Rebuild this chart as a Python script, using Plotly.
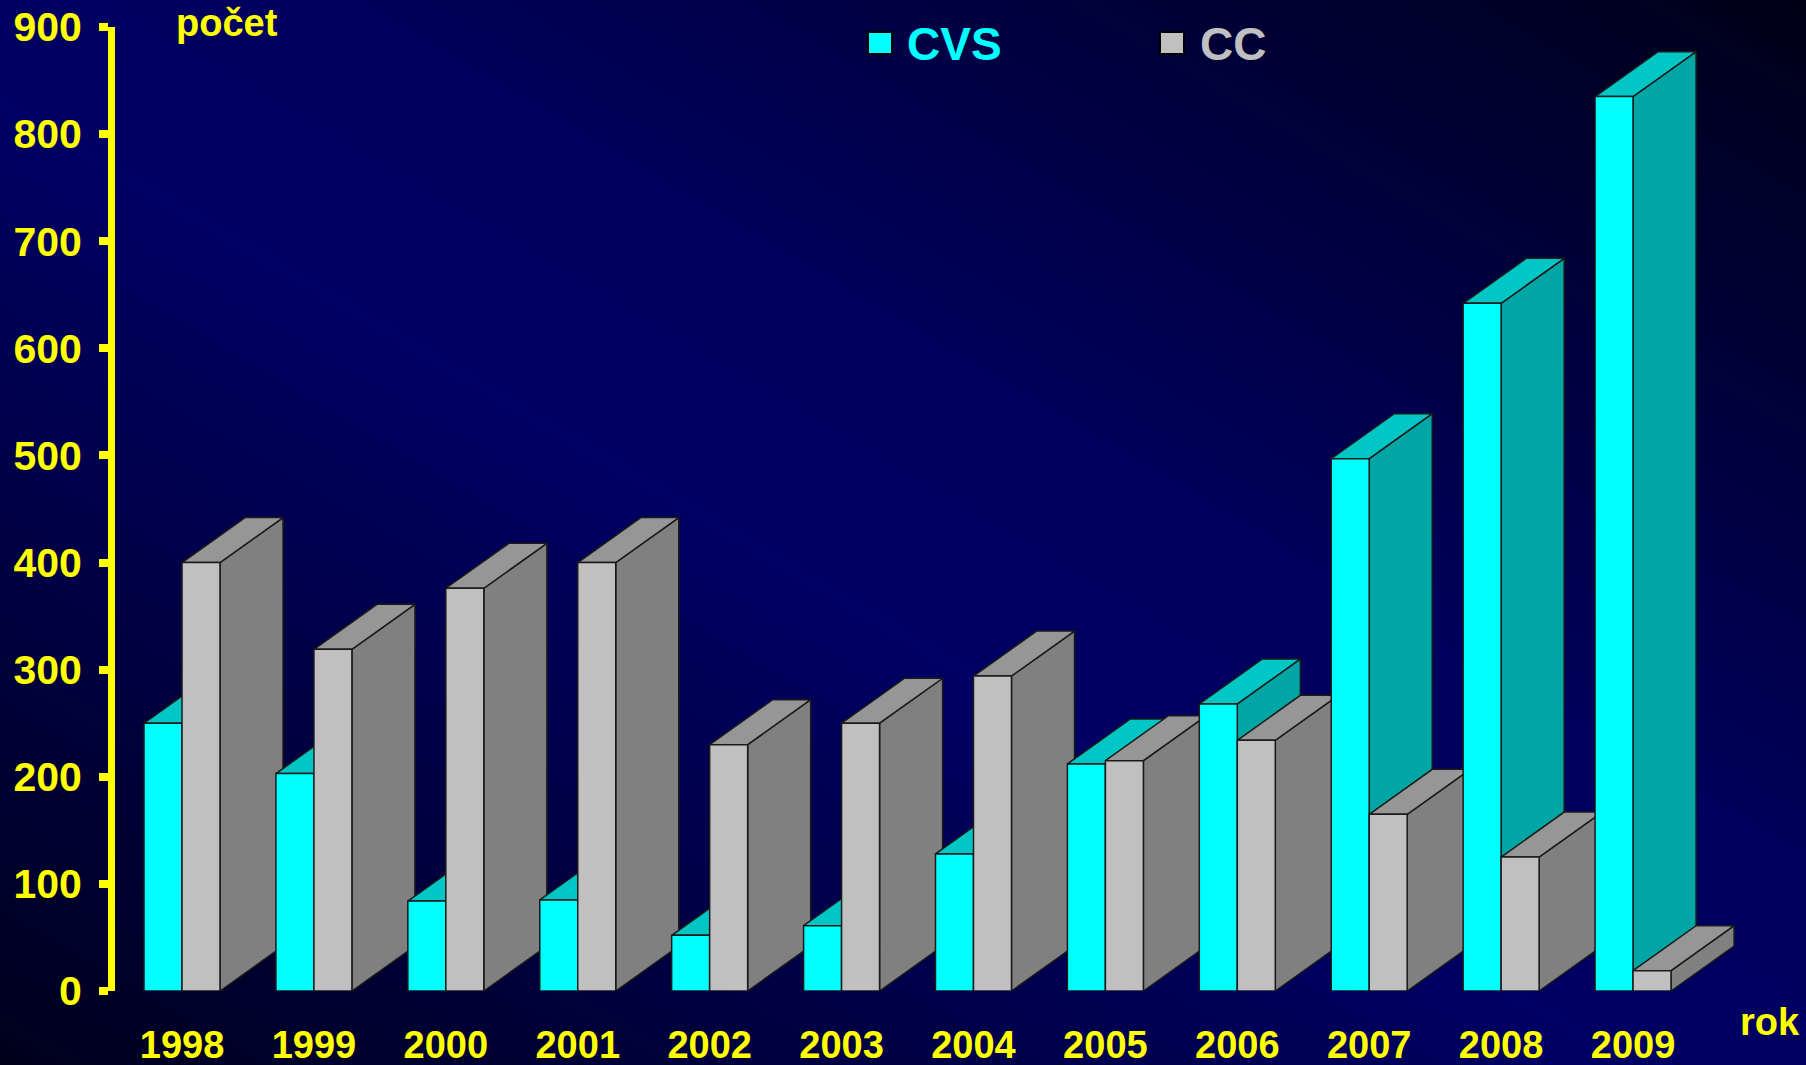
import base64
import plotly.graph_objects as go

years = ["1998", "1999", "2000", "2001", "2002", "2003",
         "2004", "2005", "2006", "2007", "2008", "2009"]
cvs = [250, 203, 84, 85, 52, 61, 128, 212, 268, 497, 642, 835]
cc = [400, 319, 376, 400, 230, 250, 294, 215, 234, 165, 125, 19]

# fake 3d look: front face, top and side built from the values
BAR_W = 0.288   # width of one bar front (category units)
DX = 0.478      # depth shift to the right
DY = 42         # depth shift up (y units)
EDGE = "#1a1a1a"

colors = {
    "CVS": ("#00FFFF", "#00C6C6", "#00A6A6"),
    "CC": ("#C0C0C0", "#969696", "#808080"),
}

def face(xs, ys, color):
    return go.Scatter(x=xs, y=ys, mode="lines", fill="toself", fillcolor=color,
                      line=dict(color=EDGE, width=1.5), hoverinfo="skip",
                      showlegend=False)

def box(x0, h, name):
    front, top, side = colors[name]
    x1 = x0 + BAR_W
    return [
        face([x1, x1 + DX, x1 + DX, x1, x1], [0, DY, h + DY, h, 0], side),
        face([x0, x0 + DX, x1 + DX, x1, x0], [h, h + DY, h + DY, h, h], top),
        face([x0, x1, x1, x0, x0], [0, 0, h, h, 0], front),
    ]

traces = []
for i in range(len(years)):
    traces += box(i - BAR_W, cvs[i], "CVS")
    traces += box(i, cc[i], "CC")

fig = go.Figure(data=traces)

# diagonal background gradient (dark corners bottom-left / top-right)
svg = ('<svg xmlns="http://www.w3.org/2000/svg" width="1806" height="1065" '
       'preserveAspectRatio="none" viewBox="0 0 1806 1065">'
       '<defs><linearGradient id="g" x1="0" y1="1" x2="1" y2="0">'
       '<stop offset="0" stop-color="#00001c"/>'
       '<stop offset="0.45" stop-color="#000064"/>'
       '<stop offset="0.6" stop-color="#00005c"/>'
       '<stop offset="1" stop-color="#000018"/>'
       '</linearGradient></defs>'
       '<rect width="1806" height="1065" fill="url(#g)"/></svg>')
bg_src = "data:image/svg+xml;base64," + base64.b64encode(svg.encode()).decode()

L, R, T, B = 115, 40, 27, 74
W, H = 1806, 1065
pw, ph = W - L - R, H - T - B

def px(x):
    return (x - L) / pw

def py(y):
    return (H - B - y) / ph

FONT = "Arial, Liberation Sans, sans-serif"

fig.update_layout(
    width=W, height=H,
    margin=dict(l=L, r=R, t=T, b=B),
    paper_bgcolor="#000044",
    plot_bgcolor="rgba(0,0,0,0)",
    showlegend=False,
    images=[dict(source=bg_src, xref="paper", yref="paper",
                 x=-L / pw, y=1 + T / ph, sizex=W / pw, sizey=H / ph,
                 xanchor="left", yanchor="top", sizing="stretch",
                 layer="below")],
)

fig.update_xaxes(
    range=[-0.508, 12.008], automargin=False,
    tickvals=list(range(len(years))), ticktext=years,
    showgrid=False, zeroline=False, showline=False, ticks="",
    ticklabelstandoff=28,
    tickfont=dict(family=FONT, size=38, color="#FFFF00", weight="bold"),
)
fig.update_yaxes(
    range=[0, 900], dtick=100, automargin=False,
    showgrid=False, zeroline=False,
    showline=True, linecolor="#FFFF00", linewidth=7,
    ticks="outside", tickcolor="#FFFF00", tickwidth=8, ticklen=9,
    ticklabelstandoff=9,
    tickfont=dict(family=FONT, size=41, color="#FFFF00", weight="bold"),
)

fig.add_annotation(text="<b>počet</b>", xref="paper", yref="paper",
                   x=px(227), y=py(23), xanchor="center", yanchor="middle",
                   showarrow=False,
                   font=dict(family=FONT, size=38, color="#FFFF00"))
fig.add_annotation(text="<b>rok</b>", xref="paper", yref="paper",
                   x=px(1770), y=py(1022), xanchor="center", yanchor="middle",
                   showarrow=False,
                   font=dict(family=FONT, size=38, color="#FFFF00"))

# legend drawn by hand (big squares + coloured names)
for name, sq_x, txt_x in [("CVS", 880, 905), ("CC", 1172, 1198)]:
    fig.add_shape(type="rect", xref="paper", yref="paper",
                  xsizemode="pixel", ysizemode="pixel",
                  xanchor=px(sq_x), yanchor=py(43),
                  x0=-12, x1=12, y0=-11, y1=11,
                  fillcolor=colors[name][0], line=dict(color="#000000", width=2))
    fig.add_annotation(text="<b>%s</b>" % name, xref="paper", yref="paper",
                       x=px(txt_x), y=py(44), xanchor="left", yanchor="middle",
                       showarrow=False,
                       font=dict(family=FONT, size=46, color=colors[name][0]))

# page has a default 8px body margin, drop it so the figure fills the window
fig.write_html("out.html", config={"displayModeBar": False},
               post_script="document.body.style.margin='0';"
                           "document.body.style.overflow='hidden';")
